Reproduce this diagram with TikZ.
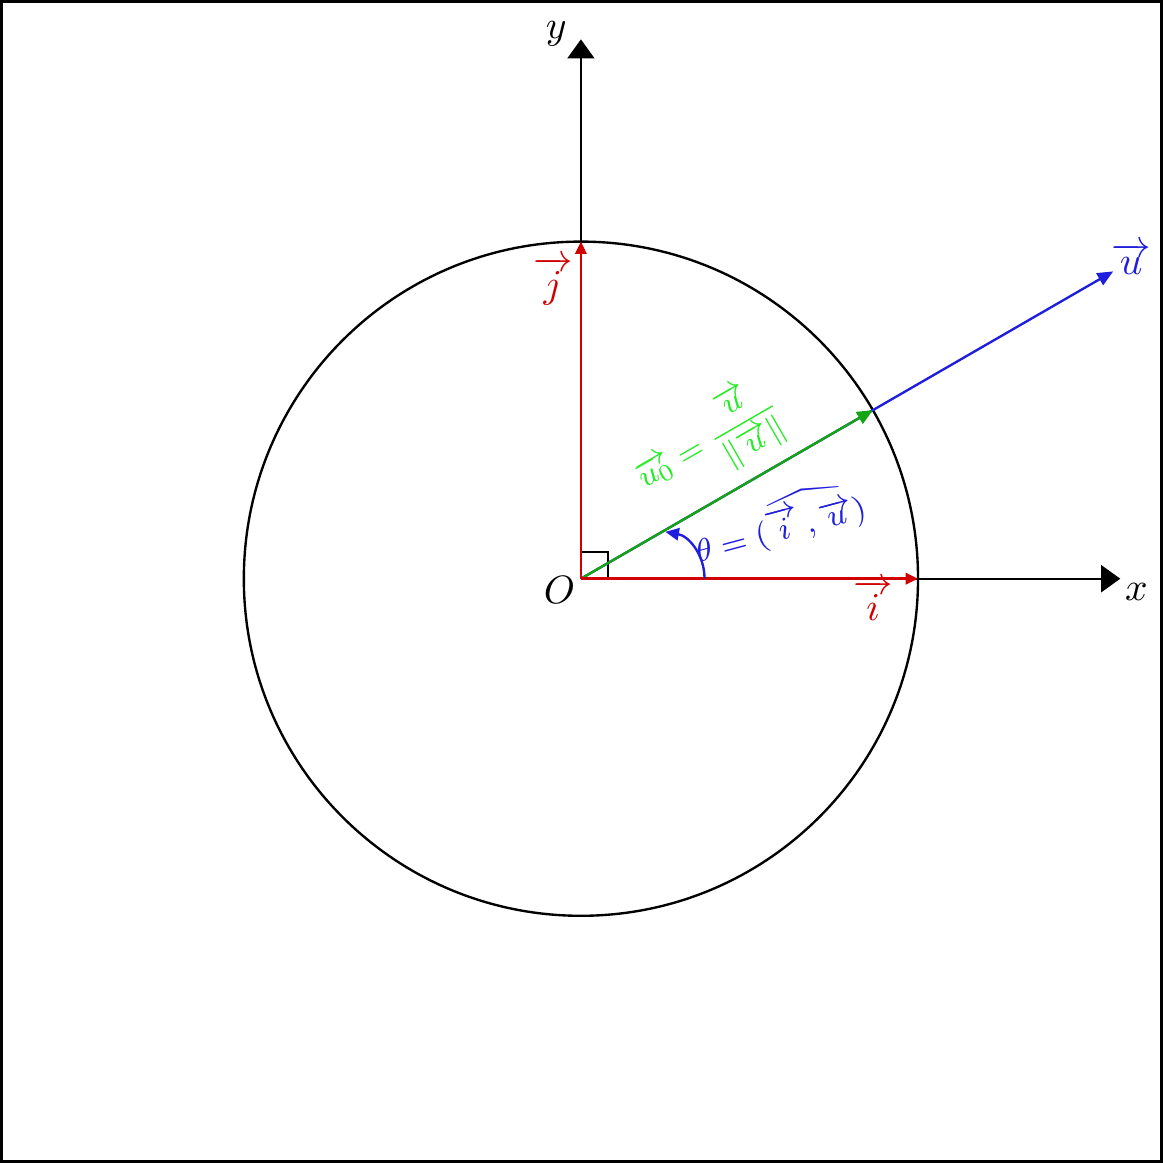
\documentclass[tikz,border=0pt]{standalone}
\usepackage{amsmath}
\usepackage{amssymb}
\usepackage{tikz}
\usetikzlibrary{arrows.meta}

\definecolor{vred}{RGB}{210,0,0}
\definecolor{vblue}{RGB}{30,30,220}
\definecolor{vgreen}{RGB}{20,165,20}
\definecolor{lgreen}{RGB}{40,235,40}

\begin{document}
\begin{tikzpicture}[
    axis/.style={line width=0.5pt,-{Triangle[length=1.7mm,width=2.4mm]}},
    basevec/.style={vred,line width=0.7pt,-{Triangle[length=1.1mm,width=1mm]}},
    longvec/.style={line width=0.6pt,-{Triangle[length=1.4mm,width=1.2mm]}}
  ]
        %Frame
        \useasboundingbox (-5.17,-5.2) rectangle (5.18,5.15);
        \draw[line width=0.8pt] (-5.16,-5.19) rectangle (5.17,5.14);

        %Points
        \coordinate (O) at (0,0);
        \coordinate (xend) at (4.8,0);
        \coordinate (yend) at (0,4.8);
        \coordinate (iend) at (3,0);
        \coordinate (jend) at (0,3);
        \coordinate (uend) at (30:5.47);
        \coordinate (u0end) at (30:3);
        \coordinate (astart) at (1.1,0);
        \coordinate (aend) at (29:0.86);

        %Unit circle
        \draw[line width=0.6pt] (O) circle (3);

        %Axes
        \draw[axis] (O) -- (xend) node[below right,inner sep=1pt] {$x$};
        \draw[axis] (O) -- (yend);
        \node (ylab) at ([shift={(-0.22,0.05)}]yend) {$y$};

        %Right angle mark
        \draw[line width=0.5pt] (0.24,0) -- (0.24,0.24) -- (0,0.24);

        %Vector u
        \draw[longvec,vblue] (O) -- (uend);
        \node[vblue] (ulab) at ([shift={(0.16,0.11)}]uend) {$\overrightarrow{u}$};

        %Unit vector u0
        \draw[longvec,vgreen] (O) -- (u0end)
          node[pos=0.53,above=0pt,sloped,text=lgreen,font=\footnotesize] {$\overrightarrow{u_0}=\dfrac{\overrightarrow{u}}{\|\overrightarrow{u}\|}$};

        %Base vectors
        \draw[basevec] (O) -- (iend);
        \draw[basevec] (O) -- (jend);
        \node[vred] (ilab) at ([shift={(-0.4,-0.19)}]iend) {$\overrightarrow{i}$};
        \node[vred] (jlab) at ([shift={(-0.25,-0.35)}]jend) {$\overrightarrow{j}$};

        %Angle
        \draw[vblue,line width=0.6pt,-{Triangle[length=1.2mm,width=1.1mm]}] (astart) to[bend right=40] (aend);
        \node[vblue,rotate=15,font=\footnotesize] (theta) at (1.76,0.5) {$\theta=(\widehat{\overrightarrow{i}\,,\overrightarrow{u}})$};

        % Text Node
        \node (Olab) at (-0.19,-0.1) {$O$};
\end{tikzpicture}
\end{document}
